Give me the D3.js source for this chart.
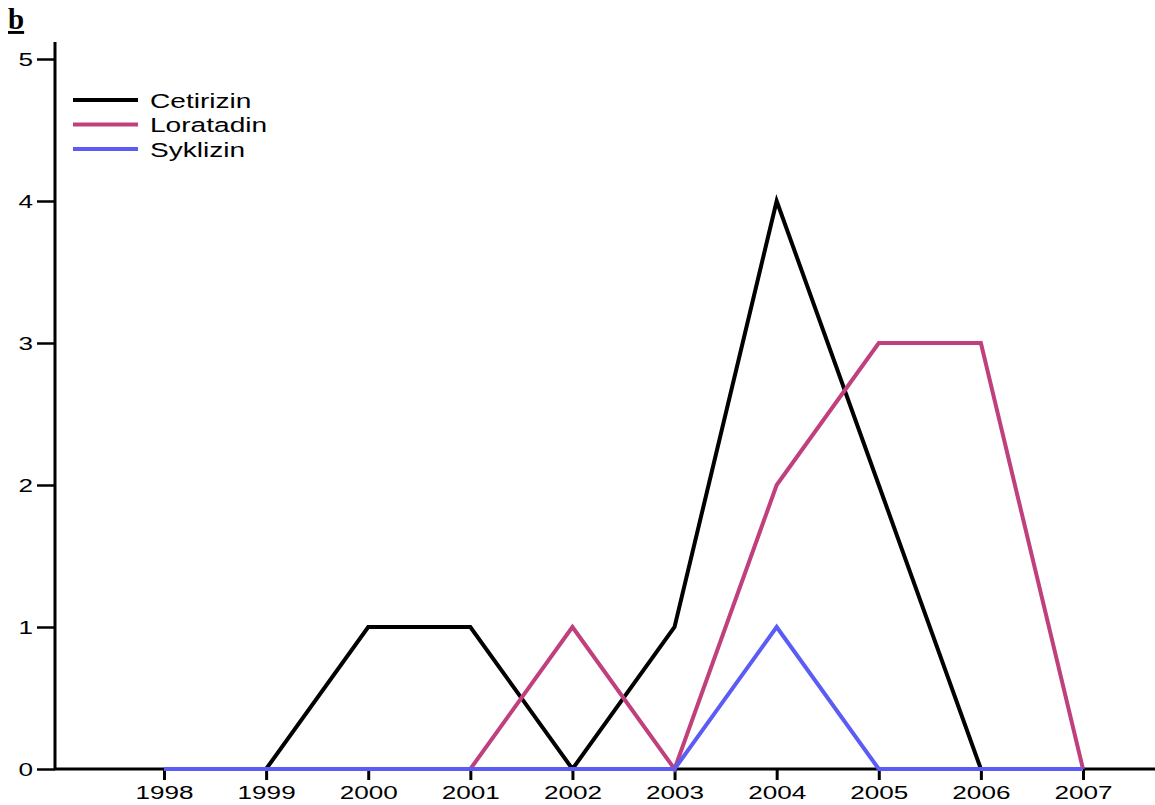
<!DOCTYPE html>
<html><head><meta charset="utf-8">
<script src="https://cdn.jsdelivr.net/npm/d3@7"></script>
<style>body{margin:0;background:#fff}svg{display:block}</style>
</head><body>
<svg id="c" width="1155" height="805"></svg>
<script>
const years = [1998,1999,2000,2001,2002,2003,2004,2005,2006,2007];
const cetirizin = [0,0,1,1,0,1,4,2,0,0];
const loratadin = [0,0,0,0,1,0,2,3,3,0];
const syklizin  = [0,0,0,0,0,0,1,0,0,0];
const seriesNames = ["Cetirizin","Loratadin","Syklizin"];
const seriesColors = ["#000000","#c0407e","#5b5cf5"];
const yTicks = [0,1,2,3,4,5];

const svg = d3.select("#c");
const x = d3.scaleLinear().domain([1998,2007]).range([164,1083]);
const y = d3.scaleLinear().domain([0,5]).range([769,59]);
const font = "'Liberation Sans', Arial, Helvetica, sans-serif";

function stretch(sel, f){
  sel.each(function(){
    const w = this.getComputedTextLength();
    d3.select(this).attr("textLength", w*f).attr("lengthAdjust","spacingAndGlyphs");
  });
}

// axes lines
svg.append("line").attr("x1",55).attr("x2",55).attr("y1",42).attr("y2",770)
  .attr("stroke","#000").attr("stroke-width",3);
svg.append("line").attr("x1",54).attr("x2",1155).attr("y1",769).attr("y2",769)
  .attr("stroke","#000").attr("stroke-width",3);

const yAxis = d3.axisLeft(y).tickValues(yTicks).tickSize(18).tickPadding(4).tickFormat(d3.format("d"));
const gy = svg.append("g").attr("transform","translate(55,0)").call(yAxis);
gy.select(".domain").remove();
gy.selectAll(".tick line").attr("stroke-width",2.5);
gy.selectAll("text").attr("font-family",font).attr("font-size",18).attr("fill","#000").attr("dy","0.36em");
stretch(gy.selectAll("text"),1.45);

const xAxis = d3.axisBottom(x).tickValues(years).tickSize(11).tickPadding(6).tickFormat(d3.format("d"));
const gx = svg.append("g").attr("transform","translate(0,769)").call(xAxis);
gx.select(".domain").remove();
gx.selectAll(".tick line").attr("stroke-width",3);
gx.selectAll("text").attr("font-family",font).attr("font-size",18).attr("fill","#000");
stretch(gx.selectAll("text"),1.45);

const line = d3.line().x((d,i)=>x(years[i])).y(d=>y(d));
[cetirizin,loratadin,syklizin].forEach((s,k)=>{
  svg.append("path").datum(s).attr("d",line).attr("fill","none")
    .attr("stroke",seriesColors[k]).attr("stroke-width",4).attr("stroke-linejoin","miter");
});

// legend
seriesNames.forEach((n,k)=>{
  const yy = 100 + k*24.5;
  svg.append("line").attr("x1",73).attr("x2",138).attr("y1",yy).attr("y2",yy)
    .attr("stroke",seriesColors[k]).attr("stroke-width",4);
  const t = svg.append("text").attr("x",150).attr("y",yy+7.5).text(n)
    .attr("font-family",font).attr("font-size",20.5).attr("fill","#000");
  stretch(t,1.37);
});

// panel label
svg.append("text").attr("x",8).attr("y",29).text("b")
  .attr("font-family","'Liberation Serif','Times New Roman',serif").attr("font-weight","bold")
  .attr("font-size",29).attr("text-decoration","underline").attr("fill","#000");
</script>
</body></html>
